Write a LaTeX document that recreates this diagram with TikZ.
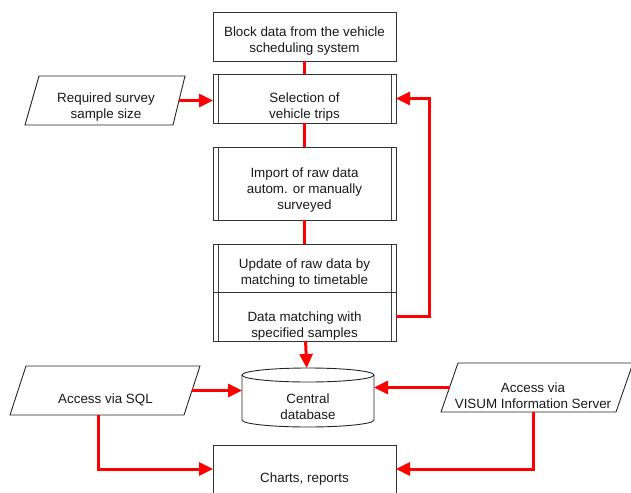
\documentclass[tikz,border=0pt]{standalone}
\usepackage{fontspec}
\setmainfont{Liberation Sans}
\usetikzlibrary{arrows.meta}
\begin{document}
\begin{tikzpicture}[x=1pt,y=-1pt,
  txt/.style={font=\fontsize{13.4}{16}\selectfont, align=center, text=black!90, inner sep=0pt, yshift=-3pt},
  box/.style={draw=black!80, line width=0.9pt, minimum width=183pt, inner sep=0pt, outer sep=0pt},
  proc/.style={box, path picture={
      \draw[black!75, line width=0.9pt]
        ([xshift=5pt]path picture bounding box.north west) -- ([xshift=5pt]path picture bounding box.south west)
        ([xshift=-5pt]path picture bounding box.north east) -- ([xshift=-5pt]path picture bounding box.south east);}},
  io/.style={draw=black!85, line width=0.9pt, line join=miter},
  flow/.style={red, line width=3pt},
  arr/.style={flow, -{Triangle[length=14pt,width=13pt]}}]
\useasboundingbox (0,0) rectangle (631,492);

% process boxes
\node[box,  minimum height=49pt] (block) at (304.5,36.5) {};
\node[proc, minimum height=49pt] (sel)   at (304.5,98.5) {};
\node[proc, minimum height=73pt] (imp)   at (304.5,183.5) {};
\node[proc, minimum height=48pt] (upd)   at (304.5,268) {};
\node[proc, minimum height=49pt] (match) at (304.5,316.5) {};
\node[box,  minimum height=64pt] (charts) at (304.5,477) {};

\node[txt] (blockT) at (304.5,38) {Block data from the vehicle\\scheduling system};
\node[txt] (selT)   at (304.5,104.5) {Selection of\\vehicle trips};
\node[txt] (impT)   at (304.5,187.5) {Import of raw data\\autom. or manually\\surveyed};
\node[txt] (updT)   at (304.5,270) {Update of raw data by\\matching to timetable};
\node[txt] (matchT) at (304.5,323) {Data matching with\\specified samples};
\node[txt] (chartsT) at (304.5,476) {Charts, reports};

% input/output parallelograms
\draw[io] (39,76) -- (185,76) -- (173,125) -- (25,125) -- cycle;
\coordinate (reqE) at (179,100.5);
\node[txt] (reqT) at (106,104.5) {Required survey\\sample size};

\draw[io] (26,366) -- (200,366) -- (184,415) -- (10,415) -- cycle;
\coordinate (sqlE) at (192,390.5);
\coordinate (sqlS) at (98,415);
\node[txt] (sqlT) at (105.5,396.5) {Access via SQL};

\draw[io] (458,363) -- (633,363) -- (616,412) -- (441,412) -- cycle;
\coordinate (visumW) at (449.5,387.5);
\coordinate (visumS) at (533,412);
\node[txt] (visumT) at (533,392.5) {Access via\\VISUM Information Server};

% database cylinder
\node[minimum width=132pt, minimum height=59pt, inner sep=0pt, outer sep=0pt] (db) at (308,397.5) {};
\draw[black!85, line width=0.9pt] (242,375) -- (242,420)
   arc[start angle=180, end angle=360, x radius=66pt, y radius=7pt] -- (374,375);
\draw[black!85, line width=0.9pt] (308,375) ellipse [x radius=66pt, y radius=7pt];
\node[txt] (dbT) at (308,404) {Central\\database};

% connectors
\draw[flow] (block) -- (sel);
\draw[flow] (sel) -- (imp);
\draw[flow] (imp) -- (upd);
\draw[arr] (match) -- (db);
\draw[arr] (reqE) -- (reqE -| sel.west);
\coordinate (loop) at (429,98.5);
\draw[arr] (match.east) -| (loop) -- (sel.east);
\draw[arr] (sqlE) -- (sqlE -| db.west);
\draw[arr] (visumW) -- (visumW -| db.east);
\draw[arr] (sqlS) |- ([yshift=8pt]charts.west);
\draw[arr] (visumS) |- ([yshift=8pt]charts.east);
\end{tikzpicture}
\end{document}
